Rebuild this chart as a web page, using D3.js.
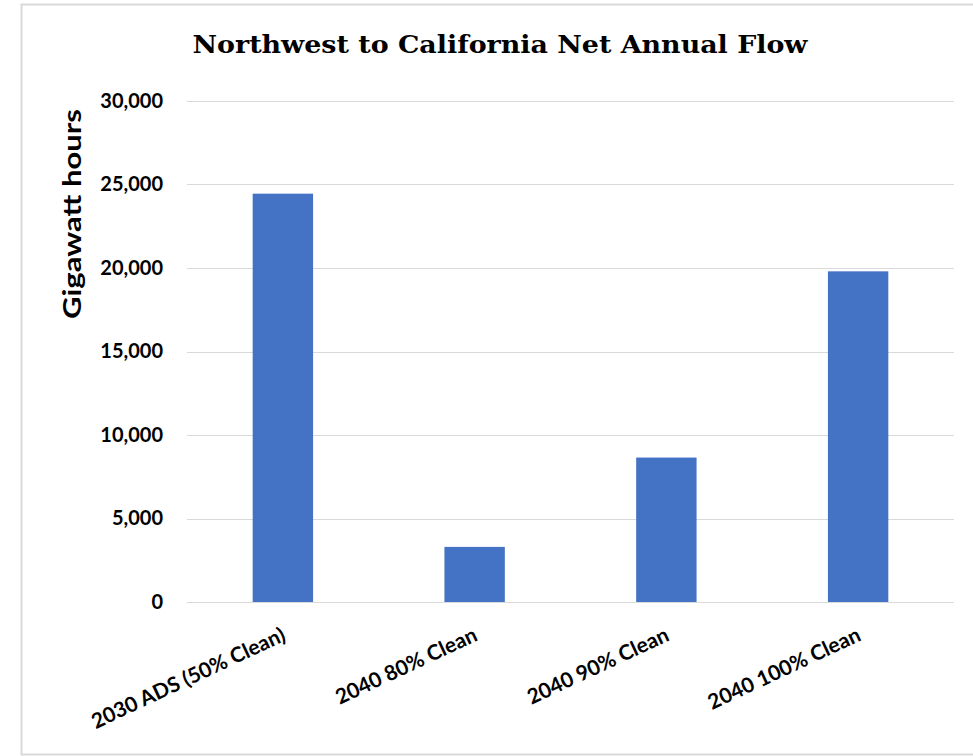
<!DOCTYPE html>
<html>
<head>
<meta charset="utf-8">
<script src="https://cdn.jsdelivr.net/npm/d3@7"></script>
<style>
  html, body { margin: 0; padding: 0; background: #fff; }
  svg { display: block; }
</style>
</head>
<body>
<svg id="chart" width="973" height="756"></svg>
<script>
const title = "Northwest to California Net Annual Flow";
const yAxisTitle = "Gigawatt hours";
const categories = ["2030 ADS (50% Clean)", "2040 80% Clean", "2040 90% Clean", "2040 100% Clean"];
const values = [24450, 3300, 8650, 19800];
const yTicks = [0, 5000, 10000, 15000, 20000, 25000, 30000];

const svg = d3.select("#chart");
const W = 973, H = 756;
const margin = { left: 187, right: 19, top: 101, bottom: 154 };
const plotW = W - margin.left - margin.right;
const plotH = H - margin.top - margin.bottom;

// outer frame
svg.append("rect")
  .attr("x", 21.5).attr("y", 4.5)
  .attr("width", 970).attr("height", 750)
  .attr("fill", "#fff").attr("stroke", "#d9d9d9").attr("stroke-width", 2);

const g = svg.append("g").attr("transform", `translate(${margin.left},${margin.top})`);

const x = d3.scaleBand().domain(categories).range([0, plotW]).paddingInner(0.685).paddingOuter(0.3425);
const y = d3.scaleLinear().domain([0, 30000]).range([plotH, 0]);

// gridlines
g.append("g")
  .selectAll("line")
  .data(yTicks)
  .join("line")
  .attr("x1", 0).attr("x2", plotW)
  .attr("y1", d => Math.round(y(d)) + 0.5).attr("y2", d => Math.round(y(d)) + 0.5)
  .attr("stroke", "#d9d9d9").attr("stroke-width", 1);

// y axis labels
const yAxis = d3.axisLeft(y).tickValues(yTicks).tickFormat(d3.format(",")).tickSize(0).tickPadding(24);
const yg = g.append("g").call(yAxis);
yg.select(".domain").remove();
yg.selectAll("text")
  .attr("font-family", "Lato, 'Open Sans', sans-serif")
  .attr("font-weight", "bold")
  .attr("font-size", "20px")
  .attr("fill", "#000");

// bars
g.append("g")
  .selectAll("rect")
  .data(values)
  .join("rect")
  .attr("x", (d, i) => x(categories[i]))
  .attr("width", x.bandwidth())
  .attr("y", d => y(d))
  .attr("height", d => plotH - y(d))
  .attr("fill", "#4472C4");

// x axis labels
const xAxis = d3.axisBottom(x).tickSize(0).tickPadding(0);
const xg = g.append("g").attr("transform", `translate(0,${plotH})`).call(xAxis);
xg.select(".domain").remove();
xg.selectAll(".tick text")
  .attr("font-family", "Lato, 'Open Sans', sans-serif")
  .attr("font-weight", "bold")
  .attr("font-size", "21px")
  .attr("fill", "#000")
  .attr("text-anchor", "end")
  .attr("dy", null)
  .attr("y", 0)
  .attr("transform", "translate(4,38) rotate(-25)");

// title
svg.append("text")
  .attr("x", 500).attr("y", 53)
  .attr("text-anchor", "middle")
  .attr("font-family", "'DejaVu Serif', 'Liberation Serif', serif")
  .attr("font-weight", "bold")
  .attr("font-size", "24px")
  .attr("textLength", 615)
  .attr("lengthAdjust", "spacingAndGlyphs")
  .attr("fill", "#000")
  .text(title);

// y axis title
svg.append("text")
  .attr("transform", "translate(81,214) rotate(-90)")
  .attr("text-anchor", "middle")
  .attr("font-family", "Lato, 'Open Sans', sans-serif")
  .attr("font-weight", "bold")
  .attr("font-size", "25px")
  .attr("textLength", 210)
  .attr("lengthAdjust", "spacingAndGlyphs")
  .attr("fill", "#000")
  .text(yAxisTitle);
</script>
</body>
</html>
